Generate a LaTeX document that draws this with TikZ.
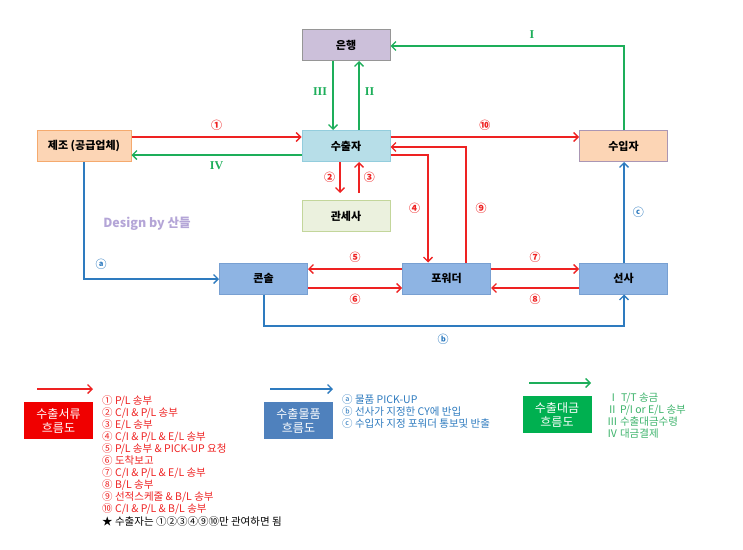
\documentclass[tikz,border=0pt]{standalone}
\usepackage{fontspec}
\setmainfont{Noto Sans CJK KR}
\newfontfamily\romfont{Liberation Serif}
\usetikzlibrary{arrows.meta}
\definecolor{rd}{HTML}{EE2222}
\definecolor{gn}{HTML}{1DAE5A}
\definecolor{bl}{HTML}{2E7BBF}
\definecolor{gtxt}{HTML}{3DB36B}
\tikzset{
  box/.style={draw, line width=1pt, minimum width=88pt, minimum height=31pt, inner sep=0pt, font=\fontsize{11}{12}\selectfont\bfseries},
  ra/.style={draw=rd, line width=1.3pt, -{Straight Barb[length=4.5pt,width=9pt]}},
  ga/.style={draw=gn, line width=1.3pt, -{Straight Barb[length=4.5pt,width=9pt]}},
  ba/.style={draw=bl, line width=1.3pt, -{Straight Barb[length=4.5pt,width=9pt]}},
  rl/.style={text=rd, font=\fontsize{11}{12}\selectfont\bfseries},
  gl/.style={text=gn, font=\romfont\fontsize{12}{13}\selectfont\bfseries},
  bll/.style={text=bl, font=\fontsize{11}{12}\selectfont\bfseries},
  legbox/.style={minimum width=69pt, minimum height=37pt, inner sep=0pt, text=white, align=center, font=\fontsize{12}{14}\selectfont},
  legtxt/.style={anchor=west, inner sep=0pt, font=\fontsize{10.5}{11}\selectfont},
}
\begin{document}
\begin{tikzpicture}[x=1pt,y=-1pt]
\useasboundingbox (0,0) rectangle (743,549);
% boxes
\node[box, fill={rgb,255:red,204;green,192;blue,218}, draw={rgb,255:red,150;green,150;blue,150}] (bank) at (346,45) {은행};
\node[box, fill={rgb,255:red,183;green,222;blue,232}, draw={rgb,255:red,147;green,205;blue,221}] (exp) at (346,146) {수출자};
\node[box, fill={rgb,255:red,235;green,241;blue,222}, draw={rgb,255:red,195;green,214;blue,155}] (cus) at (346,216) {관세사};
\node[box, minimum width=94pt, fill={rgb,255:red,252;green,213;blue,181}, draw={rgb,255:red,245;green,170;blue,110}] (mfg) at (84,146) {제조 (공급업체)};
\node[box, fill={rgb,255:red,252;green,213;blue,181}, draw={rgb,255:red,170;green,150;blue,180}] (imp) at (623.5,146) {수입자};
\node[box, fill={rgb,255:red,142;green,180;blue,227}, draw={rgb,255:red,120;green,160;blue,210}] (con) at (263.5,278.5) {콘솔};
\node[box, fill={rgb,255:red,142;green,180;blue,227}, draw={rgb,255:red,120;green,160;blue,210}] (fwd) at (446.5,278.5) {포워더};
\node[box, fill={rgb,255:red,142;green,180;blue,227}, draw={rgb,255:red,120;green,160;blue,210}] (car) at (623.5,278.5) {선사};
% coordinates
\coordinate (ta) at (84,279);
\coordinate (tb1) at (264,326);
\coordinate (tb2) at (624,326);
\coordinate (ti) at (624,46);
\coordinate (t4) at (428,155);
\coordinate (t9) at (466,147);
\coordinate (c2) at (340,193);
\coordinate (c3) at (359,193);
% red arrows
\draw[ra] (mfg.east |- 0,137) -- (exp.west |- 0,137) node[pos=0.5, above=2pt, rl] {①};
\draw[ra] (exp.east |- 0,137) -- (imp.west |- 0,137) node[pos=0.5, above=2pt, rl] {⑩};
\draw[ra] (exp.south -| c2) -- (c2) node[pos=0.5, left=1pt, rl] {②};
\draw[ra] (c3) -- (exp.south -| c3) node[pos=0.5, right=1pt, rl] {③};
\draw[ra] (exp.east |- t4) -- (t4) -- (fwd.north -| t4) node[pos=0.5, left=4pt, rl] {④};
\draw[ra] (fwd.north -| t9) -- (t9) -- (exp.east |- t9);
\node[rl] at (481,208) {⑨};
\draw[ra] (fwd.west |- 0,269) -- (con.east |- 0,269) node[pos=0.5, above=2pt, rl] {⑤};
\draw[ra] (con.east |- 0,288) -- (fwd.west |- 0,288) node[pos=0.5, below=2pt, rl] {⑥};
\draw[ra] (fwd.east |- 0,269) -- (car.west |- 0,269) node[pos=0.5, above=2pt, rl] {⑦};
\draw[ra] (car.west |- 0,288) -- (fwd.east |- 0,288) node[pos=0.5, below=2pt, rl] {⑧};
% green arrows
\draw[ga] (exp.west |- 0,155) -- (mfg.east |- 0,155) node[pos=0.5, below=3pt, gl] {IV};
\draw[ga] (bank.south -| 333,0) -- (exp.north -| 333,0) node[pos=0.45, left=2pt, gl] {III};
\draw[ga] (exp.north -| 359,0) -- (bank.south -| 359,0) node[pos=0.55, right=2pt, gl] {II};
\draw[ga] (imp.north -| ti) -- (ti) -- (bank.east |- ti);
\node[gl] at (532,35) {I};
% blue arrows
\draw[ba] (mfg.south -| ta) -- (ta) -- (con.west |- ta);
\node[bll] at (101,264) {ⓐ};
\draw[ba] (con.south -| tb1) -- (tb1) -- (tb2) -- (car.south -| tb2);
\node[bll] at (443,339) {ⓑ};
\draw[ba] (car.north -| 624,0) -- (imp.south -| 624,0) node[pos=0.5, right=5pt, bll] {ⓒ};
% signature
\node[text={rgb,255:red,180;green,165;blue,215}, font=\fontsize{12.5}{13}\selectfont\bfseries] (sig) at (147,224) {Design by 산들};
% legend red
\coordinate (lr1) at (37,389); \coordinate (lr2) at (93,389);
\draw[draw=rd, line width=1.3pt, -{Straight Barb[length=4.5pt,width=9pt]}] (lr1) -- (lr2);
\node[legbox, fill={rgb,255:red,240;green,0;blue,0}] (lrb) at (58.5,420.5) {수출서류\\흐름도};
\node[legtxt, text=rd] (r1) at (102,401) {① P/L 송부};
\node[legtxt, text=rd] (r2) at (102,413) {② C/I \& P/L 송부};
\node[legtxt, text=rd] (r3) at (102,425) {③ E/L 송부};
\node[legtxt, text=rd] (r4) at (102,437) {④ C/I \& P/L \& E/L 송부};
\node[legtxt, text=rd] (r5) at (102,449) {⑤ P/L 송부 \& PICK-UP 요청};
\node[legtxt, text=rd] (r6) at (102,461) {⑥ 도착보고};
\node[legtxt, text=rd] (r7) at (102,473) {⑦ C/I \& P/L \& E/L 송부};
\node[legtxt, text=rd] (r8) at (102,485) {⑧ B/L 송부};
\node[legtxt, text=rd] (r9) at (102,497) {⑨ 선적스케줄 \& B/L 송부};
\node[legtxt, text=rd] (r10) at (102,509) {⑩ C/I \& P/L \& B/L 송부};
\node[legtxt, text=black] (rs) at (102,521) {★ 수출자는 ①②③④⑨⑩만 관여하면 됨};
% legend blue
\coordinate (lb1) at (270,389); \coordinate (lb2) at (333,389);
\draw[draw=bl, line width=1.3pt, -{Straight Barb[length=4.5pt,width=9pt]}] (lb1) -- (lb2);
\node[legbox, fill={rgb,255:red,79;green,129;blue,189}] (lbb) at (298.5,420.5) {수출물품\\흐름도};
\node[legtxt, text=bl] (b1) at (342,400) {ⓐ 물품 PICK-UP};
\node[legtxt, text=bl] (b2) at (342,412) {ⓑ 선사가 지정한 CY에 반입};
\node[legtxt, text=bl] (b3) at (342,424) {ⓒ 수입자 지정 포워더 통보및 반출};
% legend green
\coordinate (lg1) at (529,383); \coordinate (lg2) at (591,383);
\draw[draw=gn, line width=1.3pt, -{Straight Barb[length=4.5pt,width=9pt]}] (lg1) -- (lg2);
\node[legbox, fill={rgb,255:red,0;green,176;blue,80}] (lgb) at (557,414.5) {수출대금\\흐름도};
\node[legtxt, text=gtxt] (g1) at (608,398) {Ⅰ T/T 송금};
\node[legtxt, text=gtxt] (g2) at (607,410) {Ⅱ P/I or E/L 송부};
\node[legtxt, text=gtxt] (g3) at (607,422) {Ⅲ 수출대금수령};
\node[legtxt, text=gtxt] (g4) at (607,434) {Ⅳ 대금결제};
\end{tikzpicture}
\end{document}
